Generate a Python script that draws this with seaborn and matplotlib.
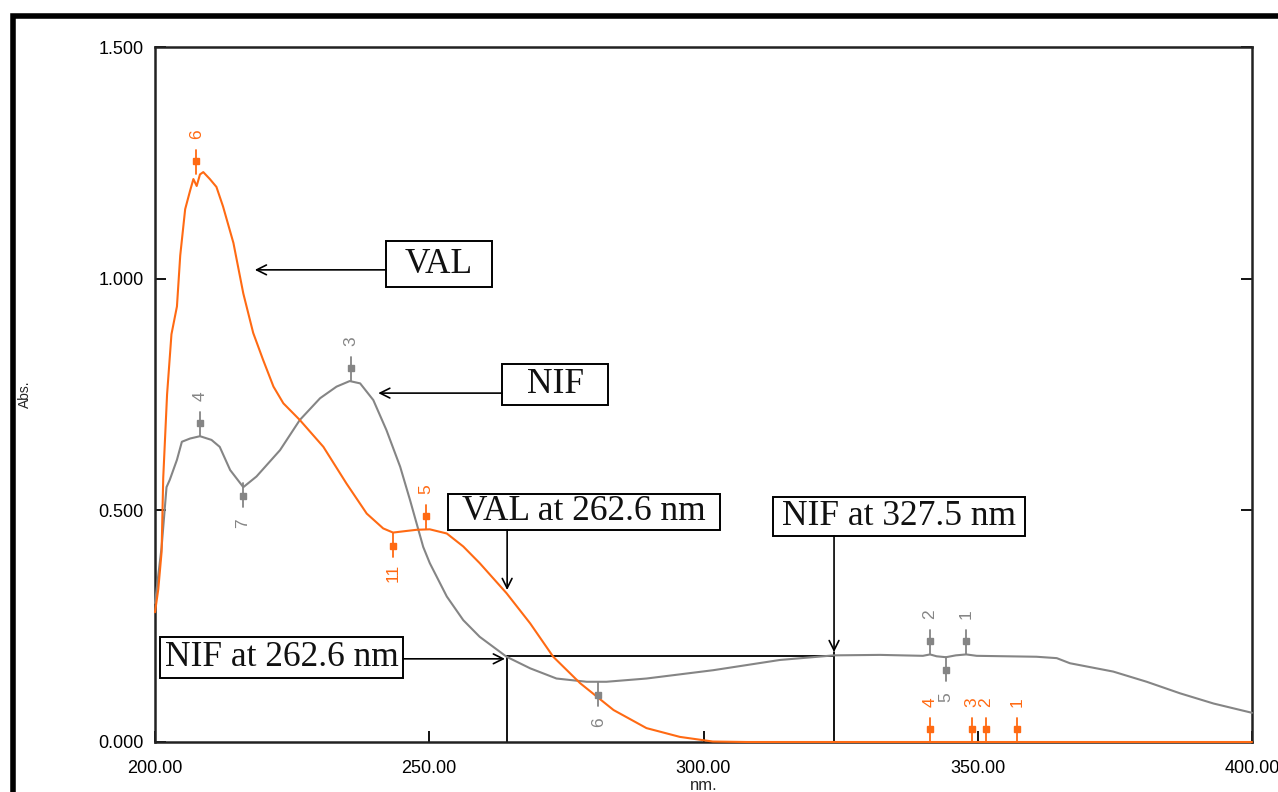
import pandas as pd
import seaborn as sns
import matplotlib.pyplot as plt
from matplotlib.patches import Rectangle
from matplotlib.ticker import FormatStrFormatter

# spectra (nm, Abs.)
val_nm = [200.0, 200.6, 201.2, 201.5, 202.2, 203.0, 204.0, 204.6, 205.5, 206.4,
          207.0, 207.6, 208.2, 208.8, 210.0, 211.2, 212.4, 214.3, 216.1, 217.9,
          219.7, 221.6, 223.4, 226.4, 230.7, 234.9, 238.6, 241.6, 243.4, 245.5,
          247.7, 250.1, 253.2, 256.2, 259.2, 264.1, 268.4, 272.6, 277.5, 283.6,
          289.6, 295.7, 301.7, 308.0, 400.0]
val_abs = [0.28, 0.33, 0.41, 0.57, 0.75, 0.88, 0.94, 1.05, 1.15, 1.19,
           1.215, 1.20, 1.225, 1.23, 1.215, 1.198, 1.156, 1.077, 0.968, 0.883,
           0.825, 0.767, 0.731, 0.695, 0.637, 0.558, 0.493, 0.461, 0.452, 0.455,
           0.458, 0.459, 0.450, 0.422, 0.386, 0.321, 0.256, 0.184, 0.127, 0.069,
           0.030, 0.011, 0.001, 0.0, 0.0]

nif_nm = [200.0, 200.6, 201.2, 202.1, 202.7, 204.0, 204.9, 206.4, 208.2, 210.3,
          211.8, 213.7, 216.1, 218.5, 222.8, 226.4, 230.1, 233.1, 235.5, 237.4,
          239.8, 242.2, 244.7, 246.5, 248.9, 250.1, 253.2, 256.2, 259.2, 264.1,
          268.4, 273.2, 278.7, 282.3, 289.6, 301.8, 313.9, 323.8, 332.2, 340.0,
          341.3, 342.5, 344.2, 346.0, 347.9, 349.8, 360.7, 364.4, 366.8, 374.7,
          380.8, 386.9, 393.0, 400.0]
nif_abs = [0.30, 0.36, 0.42, 0.55, 0.566, 0.609, 0.648, 0.655, 0.66, 0.652,
           0.637, 0.587, 0.55, 0.573, 0.630, 0.695, 0.742, 0.767, 0.779, 0.774,
           0.738, 0.673, 0.594, 0.522, 0.421, 0.386, 0.314, 0.263, 0.227, 0.184,
           0.159, 0.137, 0.130, 0.130, 0.137, 0.155, 0.177, 0.187, 0.188, 0.186,
           0.189, 0.185, 0.183, 0.187, 0.189, 0.186, 0.184, 0.181, 0.170, 0.152,
           0.130, 0.105, 0.083, 0.063]

# peak / valley picks
val_pk_nm = [207.5, 249.4, 243.4, 341.3, 348.9, 351.5, 357.2]
val_pk_abs = [1.225, 0.459, 0.452, 0.0, 0.0, 0.0, 0.0]
val_pk_lbl = ['6', '5', '11', '4', '3', '2', '1']
val_pk_dir = [1, 1, -1, 1, 1, 1, 1]
nif_pk_nm = [208.2, 235.7, 216.0, 280.8, 341.3, 347.9, 344.2]
nif_pk_abs = [0.66, 0.779, 0.558, 0.130, 0.189, 0.189, 0.183]
nif_pk_lbl = ['4', '3', '7', '6', '2', '1', '5']
nif_pk_dir = [1, 1, -1, -1, 1, 1, -1]

ORANGE = '#ff6a13'
GRAY = '#858585'

sns.set_style('white')
plt.rcParams['font.family'] = ['Liberation Sans', 'DejaVu Sans']

fig = plt.figure(figsize=(12.78, 7.92), dpi=100)
ax = fig.add_axes([155 / 1278, 1 - 742 / 792, 1097 / 1278, 695 / 792])

df = pd.concat([pd.DataFrame({'nm': nif_nm, 'abs': nif_abs, 'drug': 'NIF'}),
                pd.DataFrame({'nm': val_nm, 'abs': val_abs, 'drug': 'VAL'})])
sns.lineplot(data=df, x='nm', y='abs', hue='drug', hue_order=['NIF', 'VAL'],
             palette={'NIF': GRAY, 'VAL': ORANGE}, estimator=None, sort=False,
             legend=False, lw=1.5, zorder=4, clip_on=False, ax=ax)

ax.set_xlim(200, 400)
ax.set_ylim(0, 1.5)
px = 1.5 / 695  # abs per pixel

# peak pick markers
for nms, ys, lbls, dirs, c in [(val_pk_nm, val_pk_abs, val_pk_lbl, val_pk_dir, ORANGE),
                               (nif_pk_nm, nif_pk_abs, nif_pk_lbl, nif_pk_dir, GRAY)]:
    for x, y, l, d in zip(nms, ys, lbls, dirs):
        ax.plot([x, x], [y, y + d * 24 * px], color=c, lw=1.3, clip_on=False, zorder=4)
        ax.plot([x], [y + d * 13 * px], marker='s', ms=4.5, color=c, clip_on=False, zorder=4)
        ax.text(x, y + d * 40 * px, l, rotation=90, color=c, fontsize=12.5,
                ha='center', va='center')

# boxed labels
serif = ['Liberation Serif', 'DejaVu Serif']
boxes = [('VAL', 242.1, 0.982, 261.4, 1.081),
         ('NIF', 263.3, 0.727, 282.6, 0.816),
         ('VAL at 262.6 nm', 253.4, 0.458, 303.0, 0.535),
         ('NIF at 327.5 nm', 312.7, 0.445, 358.6, 0.529),
         ('NIF at 262.6 nm', 200.9, 0.138, 245.2, 0.227)]
for t, x0, y0, x1, y1 in boxes:
    ax.add_patch(Rectangle((x0, y0), x1 - x0, y1 - y0, fill=False, ec='black',
                           lw=1.4, zorder=5))
    ax.text((x0 + x1) / 2, (y0 + y1) / 2, t, family=serif, fontsize=25.5,
            ha='center', va='center', zorder=6, color='#111111')

arrow = dict(arrowstyle='->,head_length=0.7,head_width=0.35', color='black',
             lw=1.2, shrinkA=0, shrinkB=0)
ax.annotate('', xy=(218.2, 1.019), xytext=(242.1, 1.019), arrowprops=arrow)
ax.annotate('', xy=(240.7, 0.753), xytext=(263.3, 0.753), arrowprops=arrow)
ax.annotate('', xy=(264.2, 0.328), xytext=(264.2, 0.458), arrowprops=arrow)
ax.annotate('', xy=(323.8, 0.194), xytext=(323.8, 0.445), arrowprops=arrow)
ax.annotate('', xy=(263.8, 0.1795), xytext=(245.2, 0.1795), arrowprops=arrow)

# reading lines
ax.plot([264.2, 264.2], [0, 0.1856], color='black', lw=1.3)
ax.plot([323.8, 323.8], [0, 0.194], color='black', lw=1.3)
ax.plot([264.2, 323.8], [0.1856, 0.1856], color='black', lw=1.3)

ax.set_xticks([200, 250, 300, 350, 400])
ax.set_yticks([0, 0.5, 1.0, 1.5])
ax.xaxis.set_major_formatter(FormatStrFormatter('%.2f'))
ax.yaxis.set_major_formatter(FormatStrFormatter('%.3f'))
ax.tick_params(direction='in', length=8, width=1.3, labelsize=13,
               colors='black', right=True, left=True, bottom=True)
ax.tick_params(axis='y', pad=8)
ax.tick_params(axis='x', pad=13)
for s in ax.spines.values():
    s.set_color('#222222')
    s.set_linewidth(1.8)
ax.set_xlabel('nm.', fontsize=12, labelpad=1)
ax.set_ylabel('Abs.', fontsize=10, labelpad=48)

# window frame
fig.add_artist(Rectangle((12.5 / 1278, -0.5), 2, 0.5 + (792 - 16) / 792,
                         transform=fig.transFigure, fill=False, ec='black', lw=4))

fig.savefig('out.png', dpi=100)
